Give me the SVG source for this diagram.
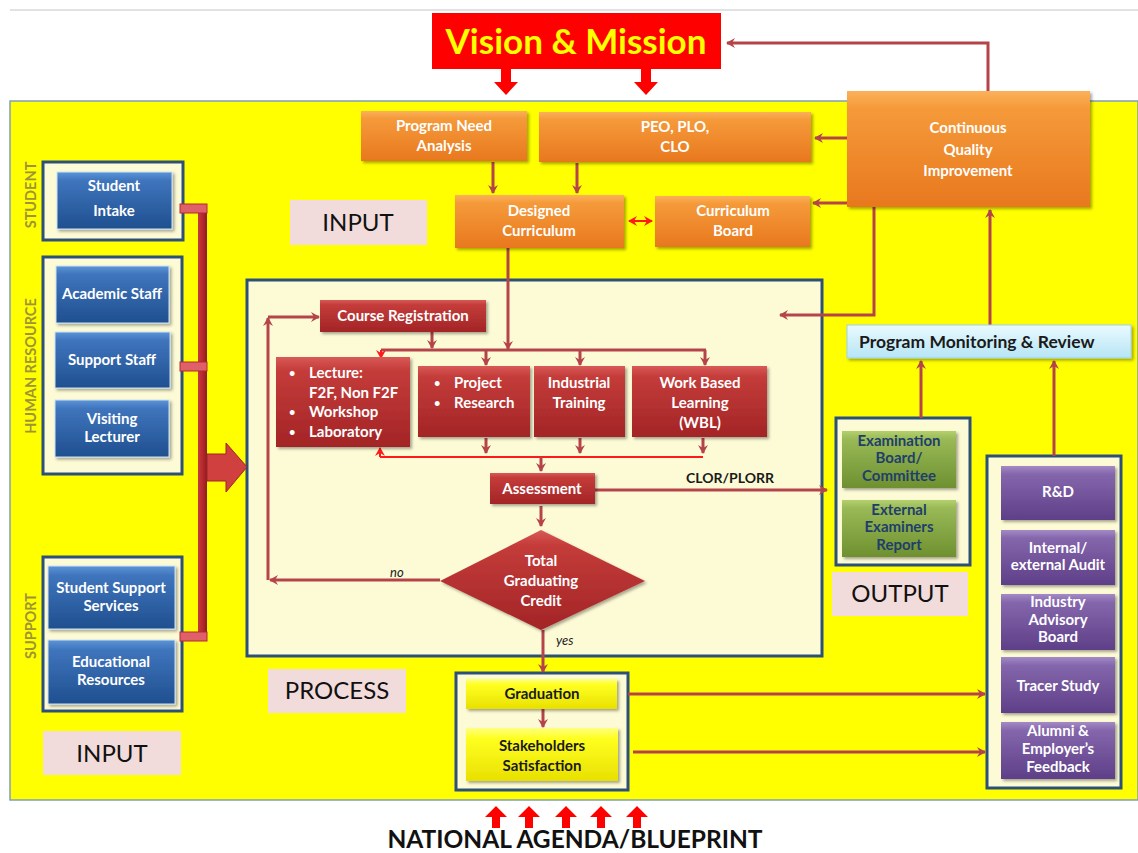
<svg xmlns="http://www.w3.org/2000/svg" width="1138" height="853" viewBox="0 0 1138 853">
<defs>
<style>
.t{font-family:Lato,"Liberation Sans",sans-serif;font-weight:bold;font-size:15px;fill:#ffffff;text-anchor:middle}
.tl{text-anchor:start}
.dk{fill:#1a1a1a}
.gt{fill:#1f3f6a}
.lbl{font-family:Lato,"Liberation Sans",sans-serif;font-size:24px;fill:#111111;text-anchor:middle}
.lb{fill:#f2dcdb}
.grp{fill:#fdfbd6;stroke:#2d5079;stroke-width:3}
.c{stroke:#b5444a;stroke-width:3;fill:none}
.cr{stroke:#ff1a1a;stroke-width:2;fill:none}
.side{font-family:Lato,"Liberation Sans",sans-serif;font-size:14.5px;font-weight:bold;fill:#9e9437;text-anchor:middle}
.it{font-family:Lato,"Liberation Sans",sans-serif;font-style:italic;font-size:13px;fill:#222222}
.bul{font-size:11px}
.or{fill:url(#gOr);filter:url(#sh)}
.bl{fill:url(#gBl);stroke:#c9e3f7;stroke-width:1;filter:url(#sh)}
.rd{fill:url(#gRd);filter:url(#sh)}
.pu{fill:url(#gPu);filter:url(#sh)}
.gr{fill:url(#gGr);filter:url(#sh)}
.ye{fill:url(#gYe);filter:url(#sh)}
.big{fill:#ff0000}
</style>
<linearGradient id="gOr" x1="0" y1="0" x2="0" y2="1"><stop offset="0" stop-color="#fbb15a"/><stop offset="0.15" stop-color="#f59a3a"/><stop offset="1" stop-color="#e8781e"/></linearGradient>
<linearGradient id="gBl" x1="0" y1="0" x2="0" y2="1"><stop offset="0" stop-color="#5d94d6"/><stop offset="0.15" stop-color="#3f75bd"/><stop offset="1" stop-color="#1f4f8f"/></linearGradient>
<linearGradient id="gRd" x1="0" y1="0" x2="0" y2="1"><stop offset="0" stop-color="#d85a57"/><stop offset="0.15" stop-color="#c43c3a"/><stop offset="1" stop-color="#a32426"/></linearGradient>
<linearGradient id="gPu" x1="0" y1="0" x2="0" y2="1"><stop offset="0" stop-color="#a48ac6"/><stop offset="0.15" stop-color="#8466ac"/><stop offset="1" stop-color="#5e3f88"/></linearGradient>
<linearGradient id="gGr" x1="0" y1="0" x2="0" y2="1"><stop offset="0" stop-color="#b3d06e"/><stop offset="0.15" stop-color="#98b955"/><stop offset="1" stop-color="#6f9030"/></linearGradient>
<linearGradient id="gYe" x1="0" y1="0" x2="0" y2="1"><stop offset="0" stop-color="#ffff80"/><stop offset="0.2" stop-color="#ffff20"/><stop offset="1" stop-color="#e8e000"/></linearGradient>
<linearGradient id="gLb" x1="0" y1="0" x2="0" y2="1"><stop offset="0" stop-color="#eafaff"/><stop offset="1" stop-color="#b6e5f5"/></linearGradient>
<linearGradient id="gBar" x1="0" y1="0" x2="1" y2="0"><stop offset="0" stop-color="#c8383c"/><stop offset="0.5" stop-color="#b52a2e"/><stop offset="1" stop-color="#8e1c20"/></linearGradient>
<filter id="sh" x="-10%" y="-10%" width="125%" height="130%"><feDropShadow dx="2" dy="2" stdDeviation="1.5" flood-color="#000" flood-opacity="0.35"/></filter>
<marker id="a" markerWidth="10" markerHeight="10" refX="8" refY="5" orient="auto" markerUnits="userSpaceOnUse"><path d="M0,0 L9,5 L0,10 L3,5 Z" fill="#b5444a"/></marker>
<marker id="ar" markerWidth="10" markerHeight="10" refX="8" refY="5" orient="auto" markerUnits="userSpaceOnUse"><path d="M0,0 L9,5 L0,10 L3,5 Z" fill="#ff1a1a"/></marker>
<marker id="ars" markerWidth="10" markerHeight="10" refX="2" refY="5" orient="auto" markerUnits="userSpaceOnUse"><path d="M10,0 L1,5 L10,10 L7,5 Z" fill="#ff1a1a"/></marker>
</defs>

<!-- background -->
<rect x="0" y="0" width="1138" height="853" fill="#ffffff"/>
<line x1="10" y1="10" x2="1138" y2="10" stroke="#d8d8d8" stroke-width="1.5"/>
<rect x="10" y="101" width="1128" height="699" fill="#ffff00" stroke="#7f9fb8" stroke-width="1.5"/>

<!-- containers -->
<g id="process-area"><rect class="grp" x="247" y="280" width="575" height="376"/></g>
<g id="student-group"><rect class="grp" x="43" y="162" width="140" height="78"/><text class="side" transform="translate(36,195) rotate(-90)">STUDENT</text></g>
<g id="hr-group"><rect class="grp" x="43" y="257" width="139" height="217"/><text class="side" transform="translate(36,366) rotate(-90)">HUMAN RESOURCE</text></g>
<g id="support-group"><rect class="grp" x="43" y="557" width="139" height="154"/><text class="side" transform="translate(36,626) rotate(-90)">SUPPORT</text></g>
<g id="output-group"><rect class="grp" x="836" y="418" width="134" height="147"/></g>
<g id="feedback-group"><rect class="grp" x="987" y="456" width="134" height="332"/></g>
<g id="graduation-group"><rect class="grp" x="456" y="673" width="172" height="117"/></g>

<!-- connectors -->
<g id="connectors">
<path class="c" d="M988,91 V43 H727" marker-end="url(#a)"/>
<path class="c" d="M847,138 H815" marker-end="url(#a)"/>
<path class="c" d="M847,203 H813" marker-end="url(#a)"/>
<path class="c" d="M493,162 V193" marker-end="url(#a)"/>
<path class="c" d="M577,163 V193" marker-end="url(#a)"/>
<path class="cr" d="M629,221 H652" marker-start="url(#ars)" marker-end="url(#ar)"/>
<path class="c" d="M508,248 V349" marker-end="url(#a)"/>
<path class="c" d="M381,350 H706"/>
<path class="cr" d="M381,350 V358" marker-end="url(#ar)"/>
<path class="c" d="M486,350 V365" marker-end="url(#a)"/>
<path class="c" d="M580,350 V365" marker-end="url(#a)"/>
<path class="c" d="M705,350 V365" marker-end="url(#a)"/>
<path class="c" d="M432,332 V348" marker-end="url(#a)"/>
<path class="c" d="M440,580 H270" marker-end="url(#a)"/>
<path class="c" d="M268,580 V318" marker-end="url(#a)"/>
<path class="c" d="M268,317 H319" marker-end="url(#a)"/>
<path class="cr" d="M380,457 H703"/>
<path class="cr" d="M380,448 V457" marker-start="url(#ars)"/>
<path class="c" d="M486,438 V453" marker-end="url(#a)"/>
<path class="c" d="M580,438 V453" marker-end="url(#a)"/>
<path class="c" d="M703,438 V453" marker-end="url(#a)"/>
<path class="c" d="M541,457 V471" marker-end="url(#a)"/>
<path class="c" d="M595,490 H827" marker-end="url(#a)"/>
<text class="t dk" x="730" y="483" style="font-size:14px">CLOR/PLORR</text>
<path class="c" d="M541,506 V526" marker-end="url(#a)"/>
<path class="c" d="M543,630 V672" marker-end="url(#a)"/>
<text class="it" x="390" y="577">no</text>
<text class="it" x="556" y="645">yes</text>
<path class="c" d="M543,709 V727" marker-end="url(#a)"/>
<path class="c" d="M628,694 H985" marker-end="url(#a)"/>
<path class="c" d="M633,752 H985" marker-end="url(#a)"/>
<path class="c" d="M921,418 V361" marker-end="url(#a)"/>
<path class="c" d="M1054,456 V361" marker-end="url(#a)"/>
<path class="c" d="M990,325 V210" marker-end="url(#a)"/>
<path class="c" d="M874,207 V315 H780" marker-end="url(#a)"/>
<!-- input bar -->
<rect x="198" y="205" width="9" height="434" fill="url(#gBar)"/>
<rect x="180" y="204" width="27" height="9" fill="#e0606a" stroke="#b02a30" stroke-width="1"/>
<rect x="180" y="362" width="27" height="9" fill="#e0606a" stroke="#b02a30" stroke-width="1"/>
<rect x="180" y="632" width="27" height="9" fill="#e0606a" stroke="#b02a30" stroke-width="1"/>
<polygon points="207,454 226,454 226,443 247,467 226,492 226,481 207,481" fill="#d0403e" stroke="#a02428" stroke-width="1"/>
<!-- vision arrows -->
<polygon class="big" points="501,69 511,69 511,82 518,82 506,95 494,82 501,82"/>
<polygon class="big" points="641,69 651,69 651,82 658,82 646,95 634,82 641,82"/>
<!-- national agenda arrows -->
<polygon class="big" points="492,828 500,828 500,817 507,817 496,806 485,817 492,817"/>
<polygon class="big" points="525,828 533,828 533,817 540,817 529,806 518,817 525,817"/>
<polygon class="big" points="562,828 570,828 570,817 577,817 566,806 555,817 562,817"/>
<polygon class="big" points="597,828 605,828 605,817 612,817 601,806 590,817 597,817"/>
<polygon class="big" points="633,828 641,828 641,817 648,817 637,806 626,817 633,817"/>
</g>

<!-- nodes -->
<g id="vision"><rect x="432" y="13" width="289" height="56" fill="#ff0000"/><text x="576" y="54" style="font-family:Lato,'Liberation Sans',sans-serif;font-weight:bold;font-size:35px;fill:#ffff00;text-anchor:middle">Vision &amp; Mission</text></g>
<g id="pna"><rect class="or" x="361" y="111" width="166" height="50"/><text class="t" x="444" y="131">Program Need</text><text class="t" x="444" y="151">Analysis</text></g>
<g id="peo"><rect class="or" x="539" y="112" width="272" height="50"/><text class="t" x="675" y="132">PEO, PLO,</text><text class="t" x="675" y="152">CLO</text></g>
<g id="cqi"><rect class="or" x="847" y="91" width="243" height="116"/><text class="t" x="968" y="133">Continuous</text><text class="t" x="968" y="155">Quality</text><text class="t" x="968" y="176">Improvement</text></g>
<g id="designed"><rect class="or" x="455" y="195" width="169" height="53"/><text class="t" x="539" y="216">Designed</text><text class="t" x="539" y="236">Curriculum</text></g>
<g id="board"><rect class="or" x="655" y="196" width="155" height="51"/><text class="t" x="733" y="216">Curriculum</text><text class="t" x="733" y="236">Board</text></g>
<g id="input1"><rect class="lb" x="290" y="200" width="137" height="45"/><text class="lbl" x="358" y="231">INPUT</text></g>

<g id="student-intake"><rect class="bl" x="57" y="172" width="115" height="57"/><text class="t" x="114" y="191">Student</text><text class="t" x="114" y="216">Intake</text></g>
<g id="academic"><rect class="bl" x="56" y="266" width="113" height="57"/><text class="t" x="112" y="299">Academic Staff</text></g>
<g id="support-staff"><rect class="bl" x="55" y="332" width="115" height="56"/><text class="t" x="112" y="365">Support Staff</text></g>
<g id="visiting"><rect class="bl" x="55" y="400" width="114" height="57"/><text class="t" x="112" y="424">Visiting</text><text class="t" x="112" y="442">Lecturer</text></g>
<g id="sss"><rect class="bl" x="48" y="566" width="127" height="63"/><text class="t" x="111" y="593">Student Support</text><text class="t" x="111" y="611">Services</text></g>
<g id="edu"><rect class="bl" x="48" y="640" width="127" height="64"/><text class="t" x="111" y="667">Educational</text><text class="t" x="111" y="685">Resources</text></g>
<g id="input2"><rect class="lb" x="43" y="731" width="138" height="44"/><text class="lbl" x="112" y="762">INPUT</text></g>

<g id="course-reg"><rect class="rd" x="320" y="300" width="166" height="32"/><text class="t" x="403" y="321">Course Registration</text></g>
<g id="lecture"><rect class="rd" x="276" y="357" width="134" height="90"/><text class="t tl bul" x="289" y="377">•</text><text class="t tl" x="309" y="378">Lecture:</text><text class="t tl" x="309" y="398">F2F, Non F2F</text><text class="t tl bul" x="289" y="416">•</text><text class="t tl" x="309" y="417">Workshop</text><text class="t tl bul" x="289" y="436">•</text><text class="t tl" x="309" y="437">Laboratory</text></g>
<g id="project"><rect class="rd" x="418" y="366" width="112" height="71"/><text class="t tl bul" x="434" y="387">•</text><text class="t tl" x="454" y="388">Project</text><text class="t tl bul" x="434" y="407">•</text><text class="t tl" x="454" y="408">Research</text></g>
<g id="industrial"><rect class="rd" x="534" y="366" width="91" height="71"/><text class="t" x="579" y="388">Industrial</text><text class="t" x="579" y="408">Training</text></g>
<g id="wbl"><rect class="rd" x="632" y="366" width="135" height="71"/><text class="t" x="700" y="388">Work Based</text><text class="t" x="700" y="408">Learning</text><text class="t" x="700" y="428">(WBL)</text></g>
<g id="assessment"><rect class="rd" x="490" y="473" width="105" height="31"/><text class="t" x="542" y="494">Assessment</text></g>
<g id="decision"><polygon points="541,530 645,581 541,630 440,581" fill="url(#gRd)" filter="url(#sh)"/><text class="t" x="541" y="566">Total</text><text class="t" x="541" y="586">Graduating</text><text class="t" x="541" y="606">Credit</text></g>
<g id="process-label"><rect class="lb" x="268" y="669" width="138" height="44"/><text class="lbl" x="337" y="699">PROCESS</text></g>

<g id="graduation"><rect class="ye" x="466" y="679" width="151" height="30"/><text class="t dk" x="542" y="699">Graduation</text></g>
<g id="stakeholders"><rect class="ye" x="466" y="728" width="152" height="53"/><text class="t dk" x="542" y="751">Stakeholders</text><text class="t dk" x="542" y="771">Satisfaction</text></g>

<g id="pmr"><rect x="847" y="325" width="284" height="33" fill="url(#gLb)" stroke="#9cd3ea" stroke-width="1" filter="url(#sh)"/><text class="t dk tl" x="859" y="348" style="font-size:17.5px">Program Monitoring &amp; Review</text></g>
<g id="exam-board"><rect class="gr" x="842" y="431" width="114" height="57"/><text class="t gt" x="899" y="446">Examination</text><text class="t gt" x="899" y="463">Board/</text><text class="t gt" x="899" y="481">Committee</text></g>
<g id="ext-exam"><rect class="gr" x="842" y="500" width="114" height="57"/><text class="t gt" x="899" y="515">External</text><text class="t gt" x="899" y="532">Examiners</text><text class="t gt" x="899" y="550">Report</text></g>
<g id="output-label"><rect class="lb" x="832" y="572" width="136" height="44"/><text class="lbl" x="900" y="602">OUTPUT</text></g>

<g id="rnd"><rect class="pu" x="1001" y="466" width="114" height="54"/><text class="t" x="1058" y="497">R&amp;D</text></g>
<g id="audit"><rect class="pu" x="1001" y="530" width="114" height="55"/><text class="t" x="1058" y="553">Internal/</text><text class="t" x="1058" y="570">external Audit</text></g>
<g id="iab"><rect class="pu" x="1001" y="594" width="114" height="56"/><text class="t" x="1058" y="607">Industry</text><text class="t" x="1058" y="625">Advisory</text><text class="t" x="1058" y="642">Board</text></g>
<g id="tracer"><rect class="pu" x="1001" y="657" width="114" height="56"/><text class="t" x="1058" y="691">Tracer Study</text></g>
<g id="alumni"><rect class="pu" x="1001" y="722" width="114" height="57"/><text class="t" x="1058" y="736">Alumni &amp;</text><text class="t" x="1058" y="754">Employer’s</text><text class="t" x="1058" y="772">Feedback</text></g>

<g id="national"><text x="575" y="848" style="font-family:Lato,'Liberation Sans',sans-serif;font-weight:bold;font-size:24.5px;fill:#111111;text-anchor:middle">NATIONAL AGENDA/BLUEPRINT</text></g>
</svg>
